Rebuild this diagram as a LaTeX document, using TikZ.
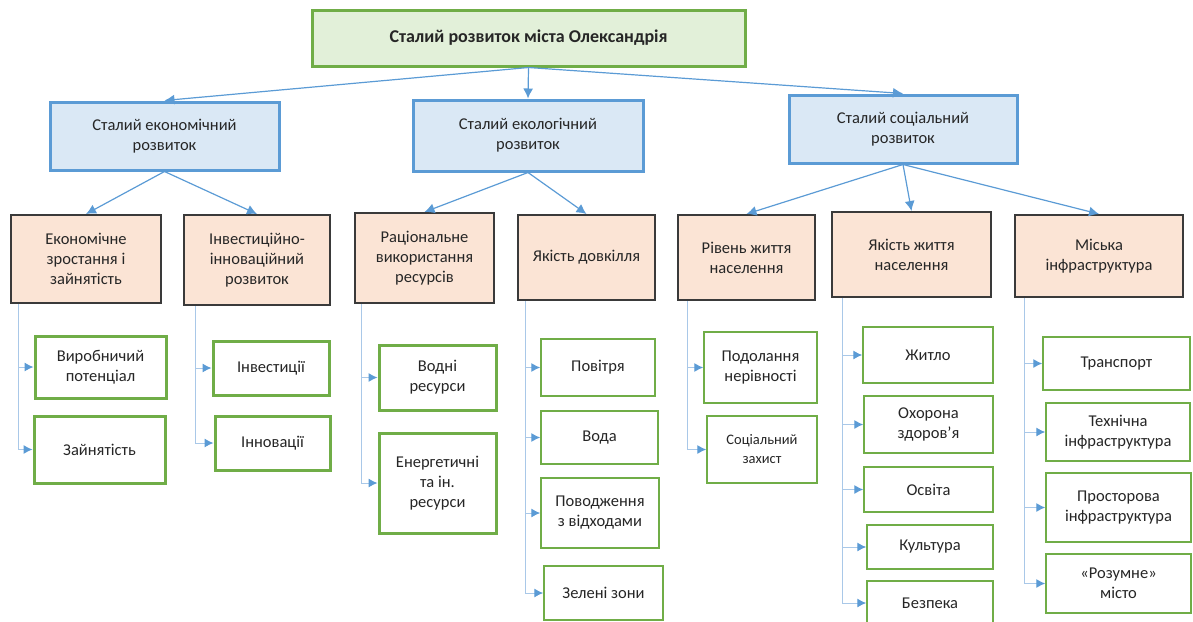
\documentclass[tikz,border=0pt]{standalone}
\usepackage{fontspec}
\setmainfont{Carlito}
\usetikzlibrary{arrows.meta}

\definecolor{zelenyi}{HTML}{70AD47}
\definecolor{zelfon}{HTML}{E2F0D9}
\definecolor{synii}{HTML}{5B9BD5}
\definecolor{synfon}{HTML}{DAE8F5}
\definecolor{svsynii}{HTML}{A9C8E8}
\definecolor{persyk}{HTML}{FBE4D5}
\definecolor{siryi}{HTML}{3A3A3A}

\tikzset{
  tekst/.style={font=\fontsize{16.5}{20}\selectfont, text=black!85, align=center, inner sep=0pt},
  korin/.style={tekst, draw=zelenyi, fill=zelfon, line width=3pt, font=\fontsize{18}{20}\selectfont\bfseries},
  napryam/.style={tekst, draw=synii, fill=synfon, line width=3pt},
  skladova/.style={tekst, draw=siryi, fill=persyk, line width=2pt},
  pokaznyk/.style={tekst, draw=zelenyi, fill=white, line width=3pt},
  tonkyi/.style={tekst, draw=zelenyi, fill=white, line width=1.5pt},
  zvyazok/.style={draw=synii, line width=1.2pt, -{Latex[length=10pt,width=10pt]}},
  gilka/.style={draw=svsynii, line width=1pt, -{Latex[length=9pt,width=9pt,color=synii]}}
}

\begin{document}
\begin{tikzpicture}[x=1pt, y=-1pt]
\useasboundingbox (0,0) rectangle (1193,621);
% рівень 1
\node[korin, minimum width=433, minimum height=56] (top) at (528.5,38) {Сталий розвиток міста Олександрія};
% рівень 2
\node[napryam, minimum width=229, minimum height=68] (se) at (164.5,136) {Сталий економічний\\розвиток};
\node[napryam, minimum width=230, minimum height=71] (sl) at (528,135.5) {Сталий екологічний\\розвиток};
\node[napryam, minimum width=228, minimum height=68] (ss) at (903,129) {Сталий соціальний\\розвиток};
% рівень 3
\node[skladova, minimum width=150, minimum height=88] (g1) at (86,259) {Економічне\\зростання і\\зайнятість};
\node[skladova, minimum width=146, minimum height=90] (g2) at (257,260) {Інвестиційно-\\інноваційний\\розвиток};
\node[skladova, minimum width=139, minimum height=90] (g3) at (424.5,258) {Раціональне\\використання\\ресурсів};
\node[skladova, minimum width=137, minimum height=85] (g4) at (586.5,257.5) {Якість довкілля};
\node[skladova, minimum width=137, minimum height=85] (g5) at (746.5,257.5) {Рівень життя\\населення};
\node[skladova, minimum width=159, minimum height=85] (g6) at (911.5,254.5) {Якість життя\\населення};
\node[skladova, minimum width=168, minimum height=82] (g7) at (1099,256) {Міська\\інфраструктура};
% рівень 4
\node[pokaznyk, minimum width=131, minimum height=62] (v1) at (100.5,367) {Виробничий\\потенціал};
\node[pokaznyk, minimum width=131, minimum height=67] (v2) at (99.5,449.5) {Зайнятість};
\node[pokaznyk, minimum width=116, minimum height=54] (v3) at (271,368) {Інвестиції};
\node[pokaznyk, minimum width=115, minimum height=54] (v4) at (272.5,443) {Інновації};
\node[pokaznyk, minimum width=117, minimum height=65] (v5) at (437.5,377.5) {Водні\\ресурси};
\node[pokaznyk, minimum width=117, minimum height=100] (v6) at (437.5,483) {Енергетичні\\та ін.\\ресурси};
\node[tonkyi, minimum width=114, minimum height=57] (v7) at (598,367.5) {Повітря};
\node[tonkyi, minimum width=117, minimum height=53] (v8) at (599.5,437.5) {Вода};
\node[tonkyi, minimum width=118, minimum height=70] (v9) at (600,513) {Поводження\\з відходами};
\node[tonkyi, minimum width=119, minimum height=54] (v10) at (603.5,593) {Зелені зони};
\node[tonkyi, minimum width=113, minimum height=71] (v11) at (760.5,367.5) {Подолання\\нерівності};
\node[tonkyi, minimum width=110, minimum height=67, font=\fontsize{14.5}{19}\selectfont] (v12) at (762,449.5) {Соціальний\\захист};
\node[tonkyi, minimum width=130, minimum height=56] (v13) at (928,355) {Житло};
\node[tonkyi, minimum width=129, minimum height=57] (v14) at (928.5,424.5) {Охорона\\здоров’я};
\node[tonkyi, minimum width=129, minimum height=45] (v15) at (928.5,489.5) {Освіта};
\node[tonkyi, minimum width=126, minimum height=44] (v16) at (930,547) {Культура};
\node[tonkyi, minimum width=126, minimum height=44] (v17) at (930,603) {Безпека};
\node[tonkyi, minimum width=147, minimum height=53] (v18) at (1116.5,363.5) {Транспорт};
\node[tonkyi, minimum width=144, minimum height=58] (v19) at (1118,432) {Технічна\\інфраструктура};
\node[tonkyi, minimum width=145, minimum height=69] (v20) at (1118.5,507.5) {Просторова\\інфраструктура};
\node[tonkyi, minimum width=145, minimum height=59] (v21) at (1118.5,583.5) {«Розумне»\\місто};
% стрілки між рівнями
\draw[zvyazok] (top.south) -- (se.north);
\draw[zvyazok] (top.south) -- (sl.north);
\draw[zvyazok] (top.south) -- (ss.north);
\draw[zvyazok] (se.south) -- (g1.north);
\draw[zvyazok] (se.south) -- (g2.north);
\draw[zvyazok] (sl.south) -- (g3.north);
\draw[zvyazok] (sl.south) -- (g4.north);
\draw[zvyazok] (ss.south) -- (g5.north);
\draw[zvyazok] (ss.south) -- (g6.north);
\draw[zvyazok] (ss.south) -- (g7.north);
% гілки
\coordinate (t1) at (18,304);
\coordinate (t2) at (195,306);
\coordinate (t3) at (361,304);
\coordinate (t4) at (525,301);
\coordinate (t5) at (687,301);
\coordinate (t6) at (842,298);
\coordinate (t7) at (1024,298);
\draw[gilka] (t1) |- (v1.west);
\draw[gilka] (t1) |- (v2.west);
\draw[gilka] (t2) |- (v3.west);
\draw[gilka] (t2) |- (v4.west);
\draw[gilka] (t3) |- (v5.west);
\draw[gilka] (t3) |- (v6.west);
\draw[gilka] (t4) |- (v7.west);
\draw[gilka] (t4) |- (v8.west);
\draw[gilka] (t4) |- (v9.west);
\draw[gilka] (t4) |- (v10.west);
\draw[gilka] (t5) |- (v11.west);
\draw[gilka] (t5) |- (v12.west);
\draw[gilka] (t6) |- (v13.west);
\draw[gilka] (t6) |- (v14.west);
\draw[gilka] (t6) |- (v15.west);
\draw[gilka] (t6) |- (v16.west);
\draw[gilka] (t6) |- (v17.west);
\draw[gilka] (t7) |- (v18.west);
\draw[gilka] (t7) |- (v19.west);
\draw[gilka] (t7) |- (v20.west);
\draw[gilka] (t7) |- (v21.west);
\end{tikzpicture}
\end{document}
